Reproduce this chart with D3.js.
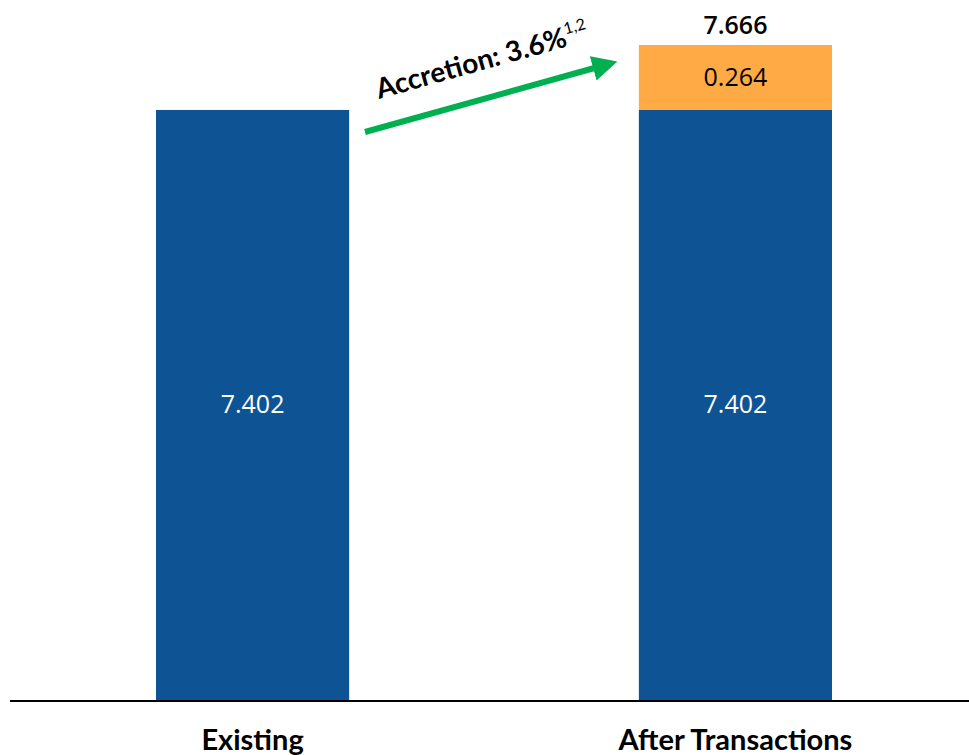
<!DOCTYPE html>
<html><head><meta charset="utf-8">
<script src="https://d3js.org/d3.v7.min.js"></script>
<style>body{margin:0;background:#fff}</style>
</head><body>
<script>
const categories = ["Existing", "After Transactions"];
const baseValues = [7.402, 7.402];
const addValues = [0, 0.264];
const totalLabels = ["", "7.666"];
const accretionText = "Accretion: 3.6%";
const accretionSup = "1,2";

const W = 969, H = 755;
const svg = d3.select("body").append("svg").attr("width", W).attr("height", H);

const x = d3.scaleBand().domain(categories).range([156, 832]).paddingInner(0.6).paddingOuter(0);
const y = d3.scaleLinear().domain([5, 7.666]).range([701, 45]);

const blue = "#0E5394", orange = "#FFAA45", green = "#00B050";

const g = svg.append("g");
categories.forEach((c, i) => {
  g.append("rect").attr("x", x(c)).attr("width", x.bandwidth())
    .attr("y", y(baseValues[i])).attr("height", y(5) - y(baseValues[i])).attr("fill", blue);
  g.append("text").attr("x", x(c) + x.bandwidth() / 2).attr("y", (y(baseValues[i]) + y(5)) / 2 + 8)
    .attr("text-anchor", "middle").attr("fill", "#fff")
    .style("font-family", "Open Sans, sans-serif").style("font-size", "25px").text(baseValues[i].toFixed(3));
  if (addValues[i] > 0) {
    const top = baseValues[i] + addValues[i];
    g.append("text").attr("x", x(c) + x.bandwidth() / 2).attr("y", y(top) - 11)
      .attr("text-anchor", "middle").attr("fill", "#000").style("font-weight", "600")
      .style("font-family", "Open Sans, sans-serif").style("font-size", "25px").text(totalLabels[i]);
    g.append("rect").attr("x", x(c)).attr("width", x.bandwidth())
      .attr("y", y(top)).attr("height", y(baseValues[i]) - y(top)).attr("fill", orange);
    g.append("text").attr("x", x(c) + x.bandwidth() / 2).attr("y", (y(top) + y(baseValues[i])) / 2 + 9)
      .attr("text-anchor", "middle").attr("fill", "#000").style("font-weight", "500")
      .style("font-family", "Open Sans, sans-serif").style("font-size", "25px").text(addValues[i].toFixed(3));
  }
});

// baseline
svg.append("line").attr("x1", 10).attr("x2", W).attr("y1", 701).attr("y2", 701)
  .attr("stroke", "#000").attr("stroke-width", 2);

// category labels
categories.forEach(c => {
  svg.append("text").attr("x", x(c) + x.bandwidth() / 2).attr("y", 750)
    .attr("text-anchor", "middle").attr("fill", "#000")
    .style("font-family", "Lato, sans-serif").style("font-weight", "bold").style("font-size", "29px").text(c);
});

// arrow
const defs = svg.append("defs");
defs.append("marker").attr("id", "ah").attr("viewBox", "0 0 10 10").attr("refX", 2).attr("refY", 5)
  .attr("markerWidth", 4.2).attr("markerHeight", 4.2).attr("orient", "auto")
  .append("path").attr("d", "M0,0 L10,5 L0,10 Z").attr("fill", green);
const x0 = 365, y0 = 132, x1 = 598, y1 = 67;
svg.append("line").attr("x1", x0).attr("y1", y0).attr("x2", x1).attr("y2", y1)
  .attr("stroke", green).attr("stroke-width", 6).attr("marker-end", "url(#ah)");

const ang = Math.atan2(y1 - y0, x1 - x0) * 180 / Math.PI;
const t = svg.append("text").attr("transform", `translate(379,99) rotate(${ang})`)
  .style("font-family", "Lato, sans-serif").style("font-weight", "bold").style("font-size", "28px").attr("fill", "#000");
t.append("tspan").text(accretionText);
t.append("tspan").attr("dy", -12).style("font-size", "16px").style("font-weight", "normal").text(accretionSup);
</script>
</body></html>
